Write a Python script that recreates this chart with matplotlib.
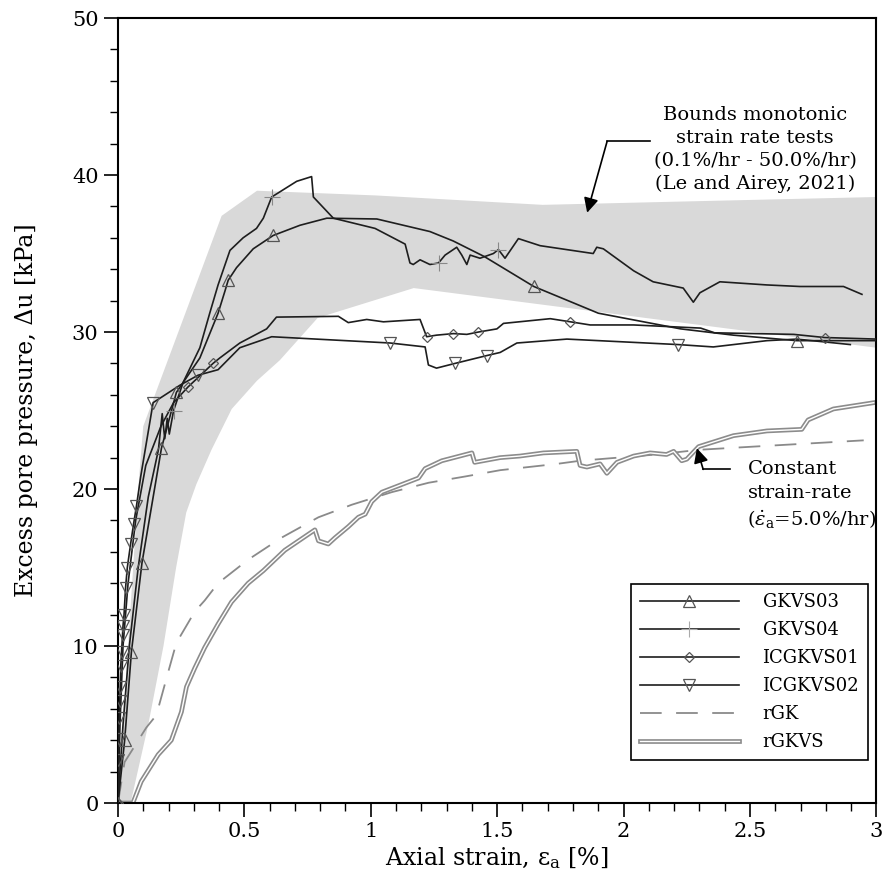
import matplotlib
matplotlib.use('Agg')
import matplotlib.pyplot as plt
import matplotlib.patheffects as pe
from matplotlib.lines import Line2D
from matplotlib.ticker import MultipleLocator

plt.rcParams['font.family'] = ['DejaVu Serif']
plt.rcParams['mathtext.fontset'] = 'dejavuserif'

# ---------------- data ----------------
band_upper_x = [0.0, 0.02, 0.04, 0.06, 0.08, 0.10, 0.41, 0.55, 1.02, 1.68, 2.2, 3.0]
band_upper_y = [0.0, 5.0, 10.0, 15.0, 20.0, 24.0, 37.4, 39.0, 38.7, 38.1, 38.3, 38.6]
band_lower_x = [0.05, 0.12, 0.18, 0.23, 0.27, 0.31, 0.37, 0.45, 0.55, 0.64, 0.79, 1.17, 3.0]
band_lower_y = [0.0, 5.0, 10.0, 15.0, 18.5, 20.3, 22.5, 25.1, 26.9, 28.2, 30.9, 32.8, 29.0]

gkvs03_x = [0, 0.0265, 0.053, 0.095, 0.172, 0.231, 0.324, 0.396, 0.423, 0.436, 0.469, 0.535,
            0.614, 0.72, 0.826, 1.024, 1.234, 1.326, 1.45, 1.645, 1.9, 2.226, 2.435, 2.686,
            2.897, 3.0]
gkvs03_y = [0, 4.0, 9.6, 15.3, 22.6, 26.15, 28.35, 31.2, 32.6, 33.3, 34.1, 35.3,
            36.15, 36.8, 37.25, 37.2, 36.4, 35.8, 34.8, 32.9, 31.2, 30.2, 29.8, 29.45,
            29.45, 29.45]
gkvs03_mk = [0, 1, 2, 3, 4, 5, 7, 9, 12, 19, 23]

gkvs04_x = [0, 0.02, 0.045, 0.08, 0.12, 0.16, 0.175, 0.185, 0.195, 0.203, 0.22, 0.258,
            0.324, 0.363, 0.396, 0.443, 0.495, 0.548, 0.575, 0.608, 0.707, 0.766, 0.773,
            0.852, 1.017, 1.136, 1.155, 1.168, 1.195, 1.234, 1.268, 1.294, 1.34, 1.36,
            1.38, 1.393, 1.432, 1.485, 1.505, 1.531, 1.584, 1.67, 1.88, 1.894, 1.92,
            2.04, 2.117, 2.236, 2.276, 2.302, 2.381, 2.566, 2.698, 2.87, 2.943]
gkvs04_y = [0, 5, 10, 15, 19.5, 22.5, 24.8, 23.2, 24.5, 23.5, 25.0, 26.8,
            29.0, 31.2, 33.0, 35.2, 36.0, 36.6, 37.25, 38.6, 39.6, 39.9, 38.6,
            37.25, 36.6, 35.6, 34.4, 34.3, 34.6, 34.3, 34.4, 34.9, 35.4, 34.9,
            34.3, 34.9, 34.7, 35.0, 35.25, 34.7, 35.95, 35.5, 35.0, 35.4, 35.3,
            33.9, 33.2, 32.8, 31.9, 32.5, 33.2, 33.0, 32.9, 32.9, 32.4]
gkvs04_mk = [10, 19, 30, 38]

icg01_x = [0, 0.008, 0.02, 0.04, 0.07, 0.11, 0.17, 0.22, 0.277, 0.33, 0.376, 0.403,
           0.482, 0.588, 0.627, 0.872, 0.911, 0.984, 1.05, 1.195, 1.221, 1.26, 1.327,
           1.38, 1.426, 1.499, 1.525, 1.71, 1.79, 1.868, 2.04, 2.305, 2.36, 2.673,
           2.795, 3.0]
icg01_y = [0, 5, 10, 14, 18, 21.5, 24.0, 25.5, 26.5, 27.3, 28.0, 28.35,
           29.3, 30.2, 30.95, 31.0, 30.6, 30.8, 30.65, 30.8, 29.7, 29.8, 29.9,
           29.85, 30.0, 30.2, 30.55, 30.85, 30.65, 30.45, 30.45, 30.25, 29.95, 29.85,
           29.65, 29.55]
icg01_mk = [0, 8, 10, 20, 22, 24, 28, 34]

icg02_x = [0, 0.002, 0.003, 0.005, 0.007, 0.009, 0.011, 0.014, 0.018, 0.02, 0.024,
           0.030, 0.037, 0.050, 0.062, 0.073, 0.09, 0.139, 0.244, 0.317, 0.396, 0.482,
           0.608, 1.077, 1.215, 1.228, 1.26, 1.333, 1.459, 1.512, 1.578, 1.776, 2.217,
           2.355, 2.567, 2.686, 2.897]
icg02_y = [0, 2.75, 4.1, 5.4, 6.5, 7.4, 8.7, 9.6, 10.7, 11.3, 12.0,
           13.7, 15.0, 16.5, 17.8, 18.9, 20.8, 25.5, 26.6, 27.25, 27.6, 29.0,
           29.7, 29.3, 29.05, 27.9, 27.7, 28.0, 28.5, 28.7, 29.3, 29.55, 29.2,
           29.05, 29.45, 29.55, 29.2]
icg02_mk = list(range(1, 16)) + [17, 19, 23, 27, 28, 32]

rgk_x = [0, 0.026, 0.112, 0.152, 0.198, 0.231, 0.304, 0.343, 0.396, 0.515, 0.647,
         0.793, 0.925, 1.083, 1.229, 1.374, 1.512, 1.736, 1.828, 2.13, 2.30, 2.567, 2.95]
rgk_y = [0, 2.6, 4.8, 5.6, 8.3, 10.2, 12.2, 12.9, 14.0, 15.5, 16.9,
         18.2, 19.0, 19.8, 20.4, 20.8, 21.2, 21.6, 21.8, 22.2, 22.5, 22.75, 23.1]

rgkvs_x = [0, 0.059, 0.092, 0.159, 0.211, 0.251, 0.271, 0.304, 0.343, 0.396, 0.449,
           0.515, 0.575, 0.66, 0.779, 0.793, 0.832, 0.859, 0.911, 0.951, 0.978, 1.004,
           1.044, 1.189, 1.215, 1.281, 1.40, 1.411, 1.512, 1.59, 1.683, 1.815, 1.828,
           1.855, 1.907, 1.934, 1.974, 2.04, 2.105, 2.17, 2.198, 2.23, 2.25, 2.297,
           2.435, 2.567, 2.705, 2.73, 2.83, 2.99]
rgkvs_y = [0, 0, 1.37, 3.08, 4.0, 5.8, 7.4, 8.6, 9.9, 11.4, 12.8,
           14.0, 14.8, 16.1, 17.4, 16.7, 16.5, 16.9, 17.6, 18.2, 18.4, 19.2,
           19.8, 20.7, 21.3, 21.8, 22.3, 21.7, 22.0, 22.1, 22.3, 22.4, 21.5,
           21.4, 21.6, 21.0, 21.7, 22.1, 22.3, 22.2, 22.4, 21.8, 21.9, 22.7,
           23.4, 23.7, 23.8, 24.4, 25.1, 25.5]

x_ticks = [0, 0.5, 1, 1.5, 2, 2.5, 3]
x_ticklabels = ['0', '0.5', '1', '1.5', '2', '2.5', '3']
y_ticks = [0, 10, 20, 30, 40, 50]

# ---------------- figure ----------------
fig = plt.figure(figsize=(8.87, 8.80), dpi=100)
ax = fig.add_axes([0.133, 0.0875, 0.855, 0.892])

band_x = band_upper_x + band_lower_x[::-1]
band_y = band_upper_y + band_lower_y[::-1]
ax.fill(band_x, band_y, color='#d9d9d9', lw=0, zorder=1)

line_kw = dict(color='#1e1e1e', lw=1.2, zorder=3)
mk_kw = dict(ls='none', mfc='none', mec='#555555', mew=0.9, ms=8, zorder=4)

ax.plot(rgk_x, rgk_y, color='#8a8a8a', lw=1.3, dashes=(12, 8), zorder=2)
ax.plot(rgkvs_x, rgkvs_y, color='white', lw=1.0, zorder=2,
        path_effects=[pe.Stroke(linewidth=3.4, foreground='#8c8c8c'), pe.Normal()])

ax.plot(gkvs03_x, gkvs03_y, **line_kw)
ax.plot([gkvs03_x[i] for i in gkvs03_mk], [gkvs03_y[i] for i in gkvs03_mk], marker='^', **mk_kw)
ax.plot(gkvs04_x, gkvs04_y, **line_kw)
ax.plot([gkvs04_x[i] for i in gkvs04_mk], [gkvs04_y[i] for i in gkvs04_mk], marker='+',
        ls='none', mec='#888888', mew=0.8, ms=12, zorder=4)
ax.plot(icg01_x, icg01_y, **line_kw)
ax.plot([icg01_x[i] for i in icg01_mk], [icg01_y[i] for i in icg01_mk], marker='D',
        ls='none', mfc='none', mec='#555555', mew=0.9, ms=5.5, zorder=4)
ax.plot(icg02_x, icg02_y, **line_kw)
ax.plot([icg02_x[i] for i in icg02_mk], [icg02_y[i] for i in icg02_mk], marker='v', **mk_kw)

# annotations
ax.text(2.52, 41.6, 'Bounds monotonic\nstrain rate tests\n(0.1%/hr - 50.0%/hr)\n(Le and Airey, 2021)',
        ha='center', va='center', fontsize=14, linespacing=1.35, zorder=5)
ax.plot([2.105, 1.935], [42.15, 42.15], color='k', lw=1.2, zorder=5)
ax.annotate('', xy=(1.856, 37.6), xytext=(1.935, 42.15),
            arrowprops=dict(arrowstyle='-|>', color='k', lw=1.2, mutation_scale=22,
                            shrinkA=0, shrinkB=0), zorder=5)

ax.text(2.49, 19.6, 'Constant\nstrain-rate\n($\\dot{\\varepsilon}_\\mathrm{a}$=5.0%/hr)',
        ha='left', va='center', fontsize=14, linespacing=1.4, zorder=5)
ax.plot([2.42, 2.315], [21.25, 21.25], color='k', lw=1.2, zorder=5)
ax.annotate('', xy=(2.29, 22.6), xytext=(2.315, 21.25),
            arrowprops=dict(arrowstyle='-|>', color='k', lw=1.2, mutation_scale=22,
                            shrinkA=0, shrinkB=0), zorder=5)

# axes
ax.set_xlim(0, 3)
ax.set_ylim(0, 50)
ax.set_xticks(x_ticks)
ax.set_xticklabels(x_ticklabels)
ax.set_yticks(y_ticks)
ax.xaxis.set_minor_locator(MultipleLocator(0.1))
ax.yaxis.set_minor_locator(MultipleLocator(2))
ax.tick_params(which='major', direction='out', length=10, width=1.2, labelsize=15, pad=4)
ax.tick_params(which='minor', direction='out', length=6, width=1.0)
for s in ax.spines.values():
    s.set_linewidth(1.5)
ax.set_xlabel('Axial strain, $\\mathregular{\\varepsilon_a}$ [%]', fontsize=17, labelpad=3)
ax.set_ylabel('Excess pore pressure, Δu [kPa]', fontsize=17, labelpad=24)

handles = [
    Line2D([], [], color='#1e1e1e', lw=1.2, marker='^', mfc='none', mec='#555555', mew=0.9, ms=8),
    Line2D([], [], color='#1e1e1e', lw=1.2, marker='+', mec='#aaaaaa', mew=0.8, ms=12),
    Line2D([], [], color='#1e1e1e', lw=1.2, marker='D', mfc='none', mec='#555555', mew=0.9, ms=5.5),
    Line2D([], [], color='#1e1e1e', lw=1.2, marker='v', mfc='none', mec='#555555', mew=0.9, ms=8),
    Line2D([], [], color='#8a8a8a', lw=1.3, dashes=(12, 8)),
    Line2D([], [], color='white', lw=1.0,
           path_effects=[pe.Stroke(linewidth=3.4, foreground='#8c8c8c'), pe.Normal()]),
]
labels = ['GKVS03', 'GKVS04', 'ICGKVS01', 'ICGKVS02', 'rGK', 'rGKVS']
leg = ax.legend(handles, labels, loc='lower right', bbox_to_anchor=(0.9894, 0.0548),
                frameon=True, fancybox=False, edgecolor='k', framealpha=1, fontsize=13,
                handlelength=5.5, borderpad=0.5, labelspacing=0.55, handletextpad=1.3,
                borderaxespad=0)
leg.get_frame().set_linewidth(1.2)

fig.savefig('out.png', dpi=100)
